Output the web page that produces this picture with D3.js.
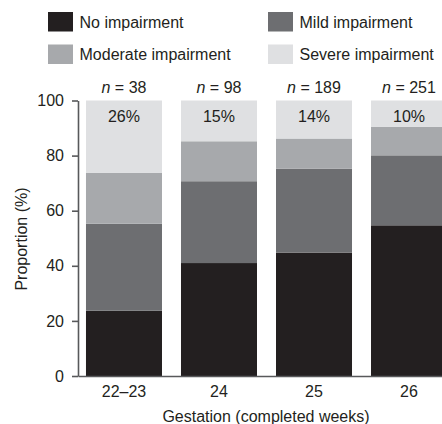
<!DOCTYPE html>
<html><head><meta charset="utf-8">
<script src="https://cdn.jsdelivr.net/npm/d3@7"></script>
<style>
html,body{margin:0;padding:0;background:#fff;}
svg{display:block;font-family:"Liberation Sans",Arial,Helvetica,sans-serif;}
</style></head>
<body>
<svg id="chart" width="442" height="424"></svg>
<script>
const categories = ["22–23", "24", "25", "26"];
const nValues = [38, 98, 189, 251];
const seriesNames = ["No impairment", "Mild impairment", "Moderate impairment", "Severe impairment"];
const noImpairment = [23.7, 41.0, 44.8, 54.7];
const mildImpairment = [31.6, 29.7, 30.4, 25.4];
const moderateImpairment = [18.4, 14.5, 11.0, 10.3];
const severeImpairment = [26.3, 14.8, 13.8, 9.6];
const yTicks = [0, 20, 40, 60, 80, 100];
const colors = ["#231f20", "#6d6e71", "#a7a9ac", "#dfe0e2"];

const keys = ["none", "mild", "moderate", "severe"];
const rows = categories.map((c, i) => ({
  cat: c, n: nValues[i],
  none: noImpairment[i], mild: mildImpairment[i],
  moderate: moderateImpairment[i], severe: severeImpairment[i]
}));

const svg = d3.select("#chart");
const textColor = "#231f20";
const axisColor = "#58595b";

const x = d3.scaleBand().domain(categories).range([78, 455])
  .paddingInner(0.2).paddingOuter(0.084);
const y = d3.scaleLinear().domain([0, 100]).range([376, 100.5]);
const color = d3.scaleOrdinal().domain(keys).range(colors);

const stacked = d3.stack().keys(keys)(rows);

svg.append("g").selectAll("g").data(stacked).join("g")
  .attr("fill", d => color(d.key))
  .selectAll("rect").data(d => d).join("rect")
  .attr("x", d => x(d.data.cat))
  .attr("width", x.bandwidth())
  .attr("y", d => y(d[1]))
  .attr("height", d => y(d[0]) - y(d[1]));

// percent labels (severe)
svg.append("g").selectAll("text").data(rows).join("text")
  .attr("x", d => x(d.cat) + x.bandwidth() / 2)
  .attr("y", 121.5)
  .attr("text-anchor", "middle")
  .attr("font-size", 16)
  .attr("fill", textColor)
  .text(d => d3.format(".0f")(d.severe) + "%");

// n labels
const nl = svg.append("g").selectAll("text").data(rows).join("text")
  .attr("x", d => x(d.cat) + x.bandwidth() / 2)
  .attr("y", 92.5)
  .attr("text-anchor", "middle")
  .attr("font-size", 16)
  .attr("fill", textColor);
nl.append("tspan").attr("font-style", "italic").text("n");
nl.append("tspan").text(d => " = " + d.n);

// axes
const yAxis = svg.append("g").attr("transform", "translate(78,0)")
  .call(d3.axisLeft(y).tickValues(yTicks).tickSize(6).tickSizeOuter(0).tickPadding(8));
const xAxis = svg.append("g").attr("transform", "translate(0,376)")
  .call(d3.axisBottom(x).tickSize(0).tickSizeOuter(0).tickPadding(10));
[yAxis, xAxis].forEach(g => {
  g.select(".domain").attr("stroke", axisColor).attr("stroke-width", 1.6);
  g.selectAll(".tick line").attr("stroke", axisColor).attr("stroke-width", 1.6);
  g.selectAll(".tick text").attr("fill", textColor).attr("font-size", 16)
    .attr("font-family", "'Liberation Sans',Arial,sans-serif");
});
xAxis.selectAll(".tick text").attr("dy", null).attr("y", 21);

// axis titles
svg.append("text")
  .attr("transform", "translate(27,239) rotate(-90)")
  .attr("text-anchor", "middle").attr("font-size", 16).attr("fill", textColor)
  .text("Proportion (%)");
svg.append("text")
  .attr("x", 266).attr("y", 422)
  .attr("text-anchor", "middle").attr("font-size", 16).attr("fill", textColor)
  .text("Gestation (completed weeks)");

// legend
const legendPos = [[48, 12], [268, 12], [48, 44.5], [268, 44.5]];
const lg = svg.append("g").selectAll("g").data(seriesNames).join("g")
  .attr("transform", (d, i) => `translate(${legendPos[i][0]},${legendPos[i][1]})`);
lg.append("rect").attr("width", 25).attr("height", 19.5)
  .attr("fill", (d, i) => colors[i]);
lg.append("text").attr("x", 31.5).attr("y", 15.5)
  .attr("font-size", 16).attr("fill", textColor).text(d => d);
</script>
</body></html>
